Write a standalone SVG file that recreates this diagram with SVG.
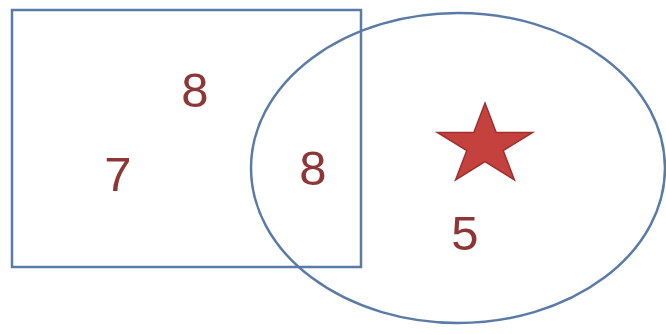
<svg xmlns="http://www.w3.org/2000/svg" width="666" height="334" viewBox="0 0 666 334">
<style>
.shape{fill:none;stroke:#5a7ba8;stroke-width:2.5}
.num{font-family:"Liberation Sans",Arial,sans-serif;font-size:49px;fill:#8e3535;text-anchor:middle}
</style>
<rect width="666" height="334" fill="#ffffff"/>
<g id="rect-set"><rect class="shape" x="12" y="10" width="349" height="257"/></g>
<g id="ellipse-set"><ellipse class="shape" cx="458" cy="168" rx="207" ry="155"/></g>
<g id="labels">
<text class="num" x="195" y="107">8</text>
<text class="num" x="118" y="191">7</text>
<text class="num" x="313" y="185">8</text>
<text class="num" x="465" y="250">5</text>
</g>
<g id="star"><polygon points="485,103 496.2,132.4 532.6,132.4 503.2,150.5 514.4,179.9 485,161.7 455.6,179.9 466.8,150.5 437.4,132.4 473.8,132.4" fill="#c4413d" stroke="#9e3030" stroke-width="1.5" stroke-linejoin="miter"/></g>
<g id="connectors"></g>
</svg>
